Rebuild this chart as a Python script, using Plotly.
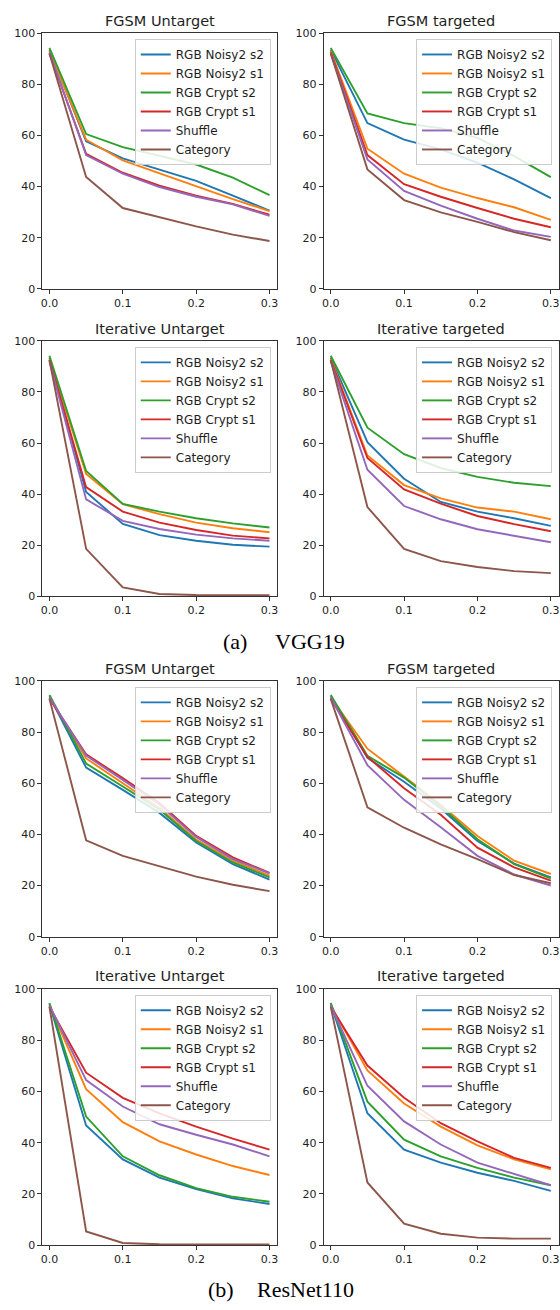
import plotly.graph_objects as go

# ---------------- data ----------------
eps = [0.0, 0.05, 0.1, 0.15, 0.2, 0.25, 0.3]
series_names = ["RGB Noisy2 s2", "RGB Noisy2 s1", "RGB Crypt s2", "RGB Crypt s1", "Shuffle", "Category"]
series_colors = ["#1f77b4", "#ff7f0e", "#2ca02c", "#d62728", "#9467bd", "#8c564b"]
panel_titles = ["FGSM Untarget", "FGSM targeted", "Iterative Untarget", "Iterative targeted",
                "FGSM Untarget", "FGSM targeted", "Iterative Untarget", "Iterative targeted"]
y_ticks = [0, 20, 40, 60, 80, 100]
x_ticks = [0.0, 0.1, 0.2, 0.3]

# (a) VGG19
vgg_fgsm_untarget = [
    [93.5, 57.7, 51.0, 46.5, 42.2, 36.4, 30.6],
    [93.0, 58.3, 50.2, 45.2, 40.0, 35.1, 30.4],
    [94.2, 60.5, 55.4, 51.9, 48.6, 43.5, 36.6],
    [92.0, 52.8, 45.4, 40.3, 36.4, 33.2, 29.0],
    [92.5, 52.3, 45.0, 39.8, 36.0, 33.0, 28.5],
    [92.0, 43.7, 31.6, 28.0, 24.4, 21.2, 18.7],
]
vgg_fgsm_targeted = [
    [93.5, 64.8, 58.3, 54.5, 49.3, 42.8, 35.5],
    [93.0, 54.8, 45.0, 39.6, 35.5, 31.9, 27.0],
    [94.2, 68.6, 64.8, 62.8, 59.0, 51.9, 43.7],
    [92.5, 52.3, 40.9, 36.0, 31.6, 27.4, 24.1],
    [92.0, 50.6, 38.3, 32.5, 27.4, 22.8, 20.3],
    [92.0, 46.7, 34.7, 29.9, 26.2, 22.2, 19.0],
]
vgg_iter_untarget = [
    [93.5, 40.8, 28.3, 23.9, 21.7, 20.1, 19.4],
    [93.0, 47.9, 36.0, 32.1, 28.8, 26.6, 25.0],
    [94.2, 49.0, 36.1, 33.1, 30.5, 28.5, 26.9],
    [92.5, 42.7, 33.1, 28.8, 25.9, 23.7, 22.6],
    [92.0, 37.9, 29.5, 26.3, 24.1, 22.6, 21.7],
    [92.5, 18.5, 3.4, 0.8, 0.4, 0.3, 0.3],
]
vgg_iter_targeted = [
    [93.5, 60.3, 46.0, 36.9, 33.1, 30.5, 27.5],
    [93.0, 55.1, 43.5, 38.3, 34.7, 33.1, 30.1],
    [94.2, 66.0, 55.6, 50.2, 46.7, 44.4, 43.1],
    [92.5, 54.1, 41.8, 36.2, 31.4, 28.2, 25.4],
    [92.0, 49.5, 35.3, 30.1, 26.2, 23.7, 21.1],
    [92.5, 34.9, 18.5, 13.7, 11.4, 9.8, 9.0],
]
# (b) ResNet110
resnet_fgsm_untarget = [
    [94.0, 66.1, 57.4, 48.4, 36.8, 28.4, 22.3],
    [93.5, 69.7, 60.0, 50.3, 38.0, 29.7, 23.9],
    [94.5, 67.7, 58.7, 49.7, 37.4, 29.0, 23.2],
    [93.0, 71.3, 62.0, 52.3, 39.4, 31.0, 24.9],
    [93.5, 70.8, 61.3, 51.6, 39.0, 30.3, 24.8],
    [93.0, 37.7, 31.6, 27.7, 23.5, 20.3, 17.8],
]
resnet_fgsm_targeted = [
    [94.0, 69.9, 60.6, 50.1, 37.4, 28.6, 23.2],
    [93.5, 73.5, 62.6, 51.6, 39.4, 29.7, 24.5],
    [94.5, 70.7, 62.2, 51.0, 38.1, 28.4, 22.8],
    [93.0, 70.3, 58.0, 47.7, 34.8, 27.1, 21.9],
    [93.5, 67.1, 53.5, 42.8, 31.6, 24.3, 20.0],
    [93.0, 50.6, 42.6, 36.1, 30.3, 24.1, 20.9],
]
resnet_iter_untarget = [
    [94.0, 46.7, 33.5, 26.4, 21.9, 18.3, 16.1],
    [93.5, 60.9, 48.0, 40.5, 35.4, 30.9, 27.4],
    [94.5, 50.2, 34.7, 27.3, 22.3, 18.9, 17.0],
    [93.0, 67.3, 57.5, 51.4, 46.3, 41.6, 37.3],
    [93.5, 64.4, 54.1, 47.2, 43.1, 39.3, 34.7],
    [93.0, 5.4, 0.9, 0.4, 0.3, 0.3, 0.3],
]
resnet_iter_targeted = [
    [94.0, 51.5, 37.3, 32.2, 28.3, 25.1, 21.2],
    [93.5, 68.2, 55.3, 46.3, 39.0, 33.5, 29.6],
    [94.5, 56.0, 41.2, 34.7, 30.2, 26.4, 23.4],
    [93.0, 70.1, 57.5, 47.6, 40.5, 34.1, 30.2],
    [93.5, 62.2, 48.3, 39.3, 32.2, 27.7, 23.4],
    [93.0, 24.5, 8.4, 4.5, 3.0, 2.6, 2.6],
]
panels = [vgg_fgsm_untarget, vgg_fgsm_targeted, vgg_iter_untarget, vgg_iter_targeted,
          resnet_fgsm_untarget, resnet_fgsm_targeted, resnet_iter_untarget, resnet_iter_targeted]

# ---------------- layout geometry (pixels) ----------------
W, H = 560, 1310
col_px = [(40.7, 276.7), (323.5, 559.5)]
row_px = [(27.3, 285.7), (338.3, 596.0), (681.7, 940.0), (992.7, 1251.7)]

def px_x(p):
    return p / W

def px_y(p):
    return 1 - p / H

TXT = "#1e1e1e"
fig = go.Figure()
layout = dict(
    width=W, height=H,
    margin=dict(l=0, r=0, t=0, b=0),
    paper_bgcolor="white", plot_bgcolor="white",
    font=dict(family="DejaVu Sans", size=11, color=TXT),
    showlegend=True,
    annotations=[],
)

for i, data in enumerate(panels):
    r, c = divmod(i, 2)
    x0, x1 = col_px[c]
    y0, y1 = row_px[r]
    ax = "" if i == 0 else str(i + 1)
    leg = "legend" if i == 0 else f"legend{i + 1}"
    for k, vals in enumerate(data):
        fig.add_trace(go.Scatter(
            x=eps, y=vals, mode="lines", name=series_names[k],
            line=dict(color=series_colors[k], width=1.9),
            xaxis="x" + ax, yaxis="y" + ax, legend=leg,
        ))
    layout["xaxis" + ax] = dict(
        domain=[px_x(x0), px_x(x1)], anchor="y" + ax,
        range=[-0.0095, 0.3105], tickvals=x_ticks, tickformat=".1f",
        showgrid=False, zeroline=False, showline=True, mirror=True,
        linecolor="#333333", linewidth=1, ticks="outside", ticklen=4,
        tickcolor="#333333", tickfont=dict(size=11, color=TXT),
    )
    layout["yaxis" + ax] = dict(
        domain=[px_y(y1), px_y(y0)], anchor="x" + ax,
        range=[0, 100], tickvals=y_ticks,
        showgrid=False, zeroline=False, showline=True, mirror=True,
        linecolor="#333333", linewidth=1, ticks="outside", ticklen=4,
        tickcolor="#333333", tickfont=dict(size=11, color=TXT),
    )
    layout[leg] = dict(
        x=px_x(x1 - 6.5), xanchor="right",
        y=px_y(y0 + 6.0), yanchor="top",
        bgcolor="rgba(255,255,255,0.85)", bordercolor="#cccccc", borderwidth=1,
        font=dict(family="DejaVu Sans", size=12, color=TXT),
        tracegroupgap=0, itemwidth=30,
    )
    layout["annotations"].append(dict(
        text=panel_titles[i], xref="paper", yref="paper",
        x=px_x((x0 + x1) / 2), y=px_y(y0 - 12.5), xanchor="center", yanchor="middle",
        showarrow=False, font=dict(family="DejaVu Sans", size=14.5, color=TXT),
    ))

# captions
cap_font = dict(family="Liberation Serif", size=22, color="black")
for txt, xl, yc in [("(a)", 220.5, 641.7), ("VGG19", 272.0, 641.7),
                    ("(b)", 205.5, 1296.7), ("ResNet110", 254.0, 1296.7)]:
    layout["annotations"].append(dict(
        text=txt, xref="paper", yref="paper", x=px_x(xl), y=px_y(yc),
        xanchor="left", yanchor="middle", showarrow=False, font=cap_font,
    ))

fig.update_layout(**layout)
fig.write_html("out.html")
